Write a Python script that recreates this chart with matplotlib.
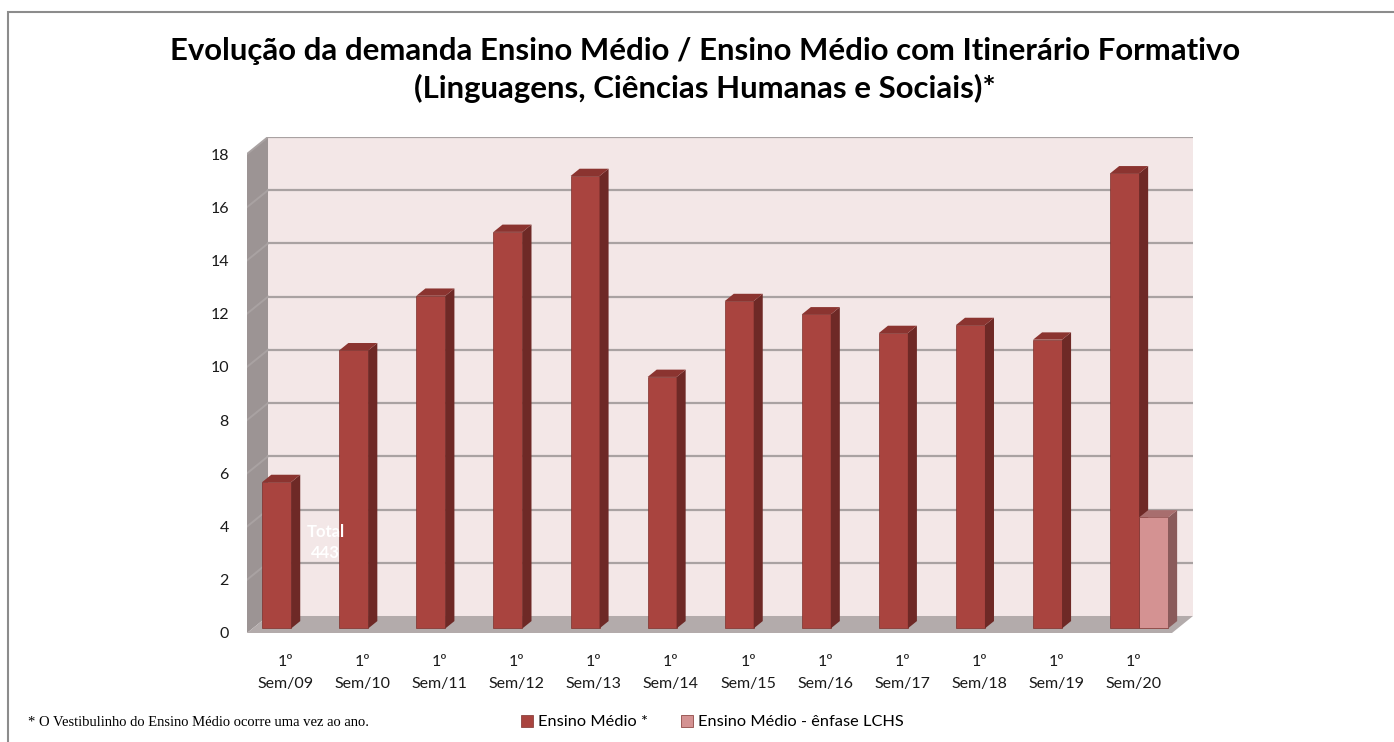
import numpy as np
import matplotlib.pyplot as plt
from matplotlib.patches import Polygon, Rectangle

# data
semestres = ['1º\nSem/09', '1º\nSem/10', '1º\nSem/11', '1º\nSem/12', '1º\nSem/13', '1º\nSem/14',
             '1º\nSem/15', '1º\nSem/16', '1º\nSem/17', '1º\nSem/18', '1º\nSem/19', '1º\nSem/20']
ensino_medio = [5.5, 10.45, 12.5, 14.9, 17.0, 9.45, 12.3, 11.8, 11.1, 11.4, 10.85, 17.1]
enfase_lchs = [np.nan] * 11 + [4.17]
yticks = list(range(0, 19, 2))

# colours
front1, side1, top1 = '#A9443F', '#6E2926', '#8B3430'
front2, side2, top2 = '#D49292', '#8A5B5B', '#A86E6E'
wall_back, wall_left, floor_c, grid_c = '#F3E7E7', '#9C9494', '#B3ABAB', '#A9A2A2'

# faux-3d geometry (data units)
Dx, Dy = 0.2725, 0.639      # depth of the box
f0, fd = 0.27, 0.43         # bar front position / bar depth, as fraction of box depth
w = 0.376                   # bar width

plt.rcParams['font.family'] = ['Lato', 'DejaVu Sans']
fig = plt.figure(figsize=(13.94, 7.42), dpi=100)
ax = fig.add_axes([247 / 1394, 1 - 633 / 742, 946 / 1394, 496 / 742])
n = len(semestres)
ax.set_xlim(-0.5, n - 0.5 + Dx)
ax.set_ylim(0, 18 + Dy)
for s in ax.spines.values():
    s.set_visible(False)

# walls and floor
ax.add_patch(Rectangle((-0.5 + Dx, Dy), n, 18, facecolor=wall_back, edgecolor='none', zorder=0))
ax.add_patch(Polygon([(-0.5, 0), (-0.5 + Dx, Dy), (-0.5 + Dx, 18 + Dy), (-0.5, 18)],
                     facecolor=wall_left, edgecolor='none', zorder=0))
ax.add_patch(Polygon([(-0.5, 0), (n - 0.5, 0), (n - 0.5 + Dx, Dy), (-0.5 + Dx, Dy)],
                     facecolor=floor_c, edgecolor='none', zorder=0))
for t in yticks[1:]:
    ax.plot([-0.5 + Dx, n - 0.5 + Dx], [t + Dy, t + Dy], color=grid_c, lw=1.6, zorder=1)
    ax.plot([-0.5, -0.5 + Dx], [t, t + Dy], color=grid_c, lw=1.4, zorder=1)


def bars3d(values, offset, fc, sc, tc, label, z):
    x = np.arange(n) + offset + f0 * Dx
    y0 = f0 * Dy
    vals = np.array(values, dtype=float)
    ok = ~np.isnan(vals)
    cont = ax.bar(x[ok], vals[ok], width=w, bottom=y0, color=fc, edgecolor='#7E302C',
                  linewidth=0.5, zorder=z, label=label)
    ddx, ddy = fd * Dx, fd * Dy
    for xi, v in zip(x[ok], vals[ok]):
        xr = xi + w / 2
        xl = xi - w / 2
        ax.add_patch(Polygon([(xr, y0), (xr + ddx, y0 + ddy), (xr + ddx, y0 + v + ddy), (xr, y0 + v)],
                             facecolor=sc, edgecolor='none', zorder=z))
        ax.add_patch(Polygon([(xl, y0 + v), (xr, y0 + v), (xr + ddx, y0 + v + ddy), (xl + ddx, y0 + v + ddy)],
                             facecolor=tc, edgecolor='none', zorder=z))
    return cont


b1 = bars3d(ensino_medio, -w / 2, front1, side1, top1, 'Ensino Médio *', 3)
b2 = bars3d(enfase_lchs, w / 2, front2, side2, top2, 'Ensino Médio - ênfase LCHS', 4)

ax.set_yticks(yticks)
ax.set_yticklabels([str(t) for t in yticks], fontsize=11.5, color='#1a1a1a')
ax.set_xticks(np.arange(n))
ax.set_xticklabels(semestres, fontsize=11.5, color='#1a1a1a', linespacing=1.7)
ax.tick_params(axis='both', length=0)
ax.tick_params(axis='y', pad=13)
ax.tick_params(axis='x', pad=16)

ax.text(0.52, 3.4, 'Total\n443', color='white', fontsize=12, fontweight='bold',
        ha='center', va='center', linespacing=1.45, zorder=5)

fig.text(0.506, 1 - 70 / 742,
         'Evolução da demanda Ensino Médio / Ensino Médio com Itinerário Formativo\n'
         '(Linguagens, Ciências Humanas e Sociais)*',
         ha='center', va='center', fontsize=22.4, fontweight='bold', linespacing=1.4)

fig.text(28 / 1394, 1 - 722 / 742, '* O Vestibulinho do Ensino Médio ocorre uma vez ao ano.',
         family='Liberation Serif', fontsize=10.5, va='center', ha='left')

fig.legend(handles=[b1, b2], loc='center', bbox_to_anchor=(712 / 1394, 1 - 722 / 742), ncol=2,
           frameon=False, fontsize=11.8, handlelength=0.75, handleheight=0.75,
           handletextpad=0.3, columnspacing=2.0)

# outer frame (cropped at right and bottom)
fig.add_artist(Rectangle((8 / 1394, -0.5), 2, 1.5 - 12 / 742, transform=fig.transFigure,
                         facecolor='none', edgecolor='#8c8c8c', lw=1.5))

fig.savefig('out.png', dpi=100)
